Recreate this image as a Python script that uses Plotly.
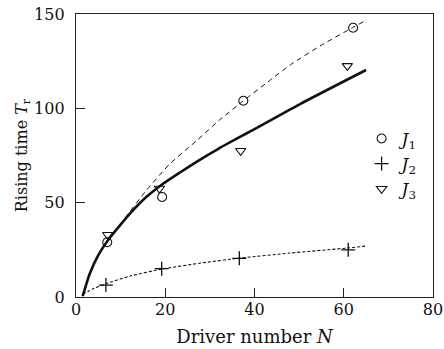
import plotly.graph_objects as go

# Measured data points
n_j1 = [7.0, 19.3, 37.5, 62.1]
t_j1 = [29.0, 53.0, 104.0, 142.7]

n_j2 = [6.7, 19.2, 36.6, 61.0]
t_j2 = [6.3, 15.0, 20.5, 25.0]

n_j3 = [7.1, 18.7, 36.9, 60.8]
t_j3 = [33.0, 57.5, 77.5, 122.5]

# Fitted curves
n_fit_solid = [1.5, 3.1, 5.0, 7.2, 9.9, 12.8, 15.8, 19.2, 23.3, 27.1, 32.0, 40.0, 50.0, 65.0]
t_fit_solid = [0.5, 12.5, 22.2, 30.2, 38.1, 46.0, 53.1, 59.5, 66.0, 71.8, 78.7, 89.0, 102.0, 120.3]

n_fit_dash = [1.5, 3.1, 5.0, 7.2, 10.6, 15.8, 21.1, 27.1, 32.0, 37.5, 43.0, 48.0, 55.0, 62.0, 64.5]
t_fit_dash = [0.5, 12.5, 22.2, 30.2, 40.7, 56.6, 70.7, 83.0, 93.5, 104.0, 114.0, 123.0, 133.5, 142.8, 146.0]

n_fit_dot = [1.5, 4.0, 6.7, 12.0, 19.2, 28.0, 37.0, 48.0, 61.0, 65.0]
t_fit_dot = [1.5, 4.5, 7.0, 11.0, 14.8, 18.0, 20.7, 23.3, 26.0, 27.0]

x_ticks = [0, 20, 40, 60, 80]
y_ticks = [0, 50, 100, 150]

INK = "#111111"
FONT = "DejaVu Serif"

fig = go.Figure()

fig.add_trace(go.Scatter(x=n_fit_dash, y=t_fit_dash, mode="lines", line_shape="spline",
                         line=dict(color=INK, width=1, dash="5px,4px", smoothing=0.6),
                         showlegend=False, hoverinfo="skip"))
fig.add_trace(go.Scatter(x=n_fit_dot, y=t_fit_dot, mode="lines", line_shape="spline",
                         line=dict(color=INK, width=1.1, dash="3px,2px", smoothing=0.6),
                         showlegend=False, hoverinfo="skip"))
fig.add_trace(go.Scatter(x=n_fit_solid, y=t_fit_solid, mode="lines", line_shape="spline",
                         line=dict(color=INK, width=2.6, smoothing=0.6),
                         showlegend=False, hoverinfo="skip"))

fig.add_trace(go.Scatter(x=n_j1, y=t_j1, mode="markers", name="<i>J</i><sub>1</sub>",
                         marker=dict(symbol="circle-open", size=9, color=INK, line=dict(width=1.1, color=INK))))
fig.add_trace(go.Scatter(x=n_j2, y=t_j2, mode="markers", name="<i>J</i><sub>2</sub>",
                         marker=dict(symbol="cross-thin-open", size=10, color=INK, line=dict(width=1.3, color=INK))))
fig.add_trace(go.Scatter(x=n_j3, y=t_j3, mode="markers", name="<i>J</i><sub>3</sub>",
                         marker=dict(symbol="triangle-down-open", size=9, color=INK, line=dict(width=1.1, color=INK))))

axis_common = dict(
    showgrid=False, zeroline=False, showline=True, mirror=True, automargin=False,
    linecolor="#222222", linewidth=1.3,
    ticks="inside", ticklen=9, tickwidth=1.3, tickcolor="#222222",
    tickfont=dict(family=FONT, size=16, color=INK),
)

fig.update_layout(
    width=444, height=349,
    margin=dict(l=76, r=11, t=14, b=52),
    paper_bgcolor="white", plot_bgcolor="white",
    font=dict(family=FONT, color=INK),
    xaxis=dict(range=[0, 80], tickvals=x_ticks, ticktext=[str(v) for v in x_ticks],
               ticklabelstandoff=-2,
               title=dict(text="Driver number <i>N</i>", font=dict(family=FONT, size=18, color=INK), standoff=12),
               **axis_common),
    yaxis=dict(range=[0, 150], tickvals=y_ticks, ticktext=[str(v) for v in y_ticks],
               ticklabelstandoff=7,
               title=dict(text="Rising time <i>T</i><sub>r</sub>", font=dict(family=FONT, size=16, color=INK), standoff=2),
               **axis_common),
    legend=dict(x=0.80, y=0.622, xanchor="left", yanchor="top", bgcolor="rgba(0,0,0,0)",
                font=dict(family=FONT, size=17, color=INK), itemwidth=30, tracegroupgap=0),
)

fig.write_html("out.html", config={"displayModeBar": False},
               post_script="document.body.style.margin='0';document.body.style.overflow='hidden';")
